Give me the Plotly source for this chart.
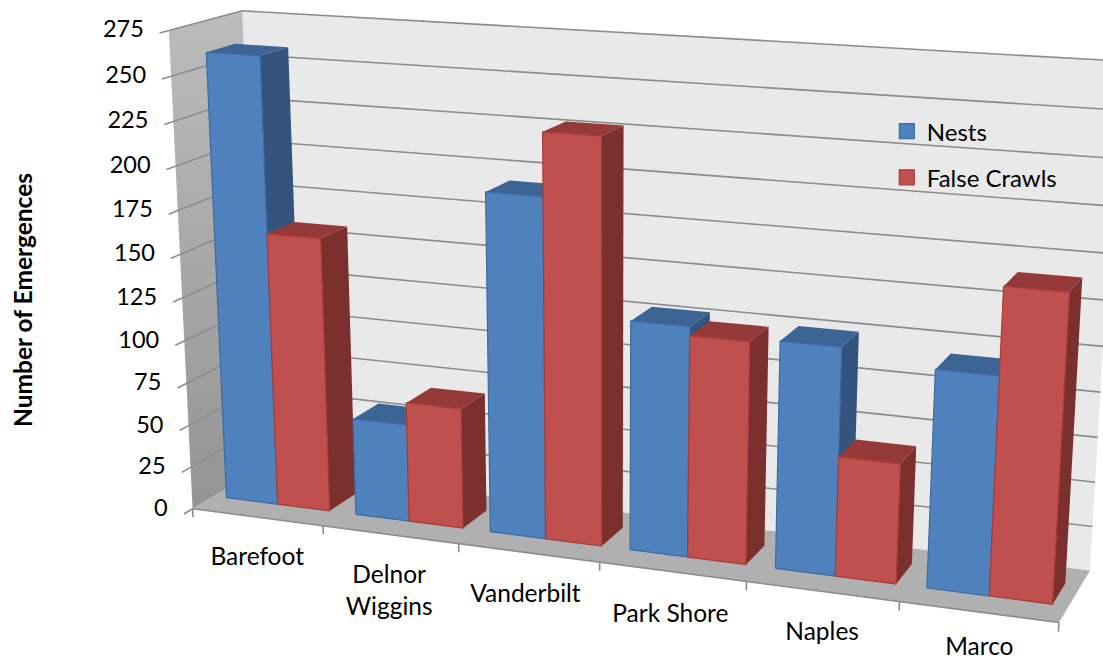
import numpy as np
import plotly.graph_objects as go

categories = ["Barefoot", "Delnor<br>Wiggins", "Vanderbilt", "Park Shore", "Naples", "Marco"]
nests = [260, 57, 194, 130, 127, 120]
false_crawls = [160, 70, 229, 125, 67, 167]
value_ticks = list(range(0, 276, 25))
value_max = 275

# perspective calibration: chart-space points (category, depth, value) -> page pixel
world_corners = [(0, 0, 0), (0, 0, 275), (0, 1, 275), (0, 1, 0), (6, 0, 0), (6, 1, 0), (6, 1, 275),
                 (1, 0, 0), (2, 0, 0), (3, 0, 0), (5, 0, 0),
                 (0.1, 0.3, 260), (2.1, 0.3, 194), (2.9, 0.3, 229), (3.1, 0.3, 130), (5.1, 0.3, 120), (5.9, 0.3, 167),
                 (0.1, 0.3, 0), (2.1, 0.3, 0), (2.9, 0.3, 0), (5.1, 0.3, 0), (5.9, 0.3, 0)]
page_corners = [(195, 509), (168, 29), (245, 9), (258, 469), (1060, 623), (1090, 567), (1122, 65),
                (323, 526), (459, 544), (600, 562), (900, 602),
                (207, 52), (484, 195), (600, 133), (629, 323), (933, 372), (1068, 289),
                (228, 497), (490, 533), (600, 545), (927, 588), (1055, 603)]


def fit_projection():
    rows = []
    for (a, b, c), (x, y) in zip(world_corners, page_corners):
        p = [a / 6, b, c / value_max, 1]
        x, y = x / 1000, y / 1000
        rows.append(p + [0, 0, 0, 0] + [-x * q for q in p])
        rows.append([0, 0, 0, 0] + p + [-y * q for q in p])
    return np.linalg.svd(np.array(rows))[2][-1].reshape(3, 4)


P = fit_projection()


def project(u, v, w):
    h = P @ np.array([u / 6, v, w / value_max, 1])
    return h[0] / h[2] * 1000, h[1] / h[2] * 1000


fig = go.Figure()


def face(points, fill=None, line=None, width=1, gradient=None):
    xy = [project(*p) for p in points]
    xs = [q[0] for q in xy] + [xy[0][0]]
    ys = [q[1] for q in xy] + [xy[0][1]]
    kw = dict(x=xs, y=ys, mode="lines", fill="toself", hoverinfo="skip", showlegend=False,
              line=dict(color=line or "rgba(0,0,0,0)", width=width))
    if gradient:
        kw["fillgradient"] = gradient
    else:
        kw["fillcolor"] = fill
    fig.add_trace(go.Scatter(**kw))


def segment(points, color="#8c8c8c", width=1.6):
    xy = [project(*p) for p in points]
    fig.add_trace(go.Scatter(x=[q[0] for q in xy], y=[q[1] for q in xy], mode="lines",
                             hoverinfo="skip", showlegend=False, line=dict(color=color, width=width)))


n = len(categories)
face([(0, 1, 0), (n, 1, 0), (n, 1, value_max), (0, 1, value_max)], fill="#e9e9e9")
face([(0, 0, 0), (0, 1, 0), (0, 1, value_max), (0, 0, value_max)],
     gradient=dict(type="vertical", colorscale=[[0, "#949494"], [1, "#bcbcbc"]]))
face([(0, 0, 0), (n, 0, 0), (n, 1, 0), (0, 1, 0)], fill="#b0b0b0")

for t in value_ticks:
    if t > 0:
        segment([(0, 0, t), (0, 1, t), (n, 1, t)])
segment([(0, -0.12, 0), (0, 0, 0), (n, 0, 0)])
for t in value_ticks[1:]:
    segment([(0, -0.12, t), (0, 0, t)])
for i in range(n + 1):
    segment([(i, 0, 0), (i, 0, -5)])

gap = 0.1
v1, v2 = 0.3, 0.7
styles = {
    "nests": dict(front="#4f81bd", top="#3c6494", side="#34547d", edge="#3a6ca6"),
    "crawls": dict(front="#c0504d", top="#953a38", side="#7c302e", edge="#a83c39"),
}


def bar(u1, u2, value, s):
    face([(u2, v1, 0), (u2, v2, 0), (u2, v2, value), (u2, v1, value)], fill=s["side"])
    face([(u1, v1, value), (u2, v1, value), (u2, v2, value), (u1, v2, value)], fill=s["top"])
    face([(u1, v1, 0), (u2, v1, 0), (u2, v1, value), (u1, v1, value)], fill=s["front"], line=s["edge"], width=1.2)


for i in range(n):
    mid = i + 0.5
    bar(i + gap, mid, nests[i], styles["nests"])
    bar(mid, i + 1 - gap, false_crawls[i], styles["crawls"])

font = "Lato, Carlito, sans-serif"
tick_xy = [project(0, 0, t) for t in value_ticks]
fig.add_trace(go.Scatter(x=[q[0] - 25 for q in tick_xy], y=[q[1] + 1 for q in tick_xy], mode="text",
                         text=[str(t) for t in value_ticks], textposition="middle left",
                         textfont=dict(family=font, size=23.5, color="#000000"),
                         hoverinfo="skip", showlegend=False))

label_drop = [42, 58, 43, 44, 42, 37]
label_shift = [0, -1, -3, -2, 0, 1]
cat_xy = [project(i + 0.5, 0, 0) for i in range(n)]
fig.add_trace(go.Scatter(x=[q[0] + s for q, s in zip(cat_xy, label_shift)],
                         y=[q[1] + d for q, d in zip(cat_xy, label_drop)], mode="text",
                         text=categories, textposition="middle center", cliponaxis=False,
                         textfont=dict(family=font, size=24.5, color="#000000"),
                         hoverinfo="skip", showlegend=False))

for name, s, group in [("Nests", styles["nests"], "a"), ("False Crawls", styles["crawls"], "b")]:
    fig.add_trace(go.Scatter(x=[None], y=[None], mode="markers", name=name, legendgroup=group,
                             marker=dict(symbol="square", size=15, color=s["front"],
                                         line=dict(color=s["edge"], width=1.2))))

fig.update_layout(
    width=1103, height=661, margin=dict(l=0, r=0, t=0, b=0),
    paper_bgcolor="white", plot_bgcolor="white",
    xaxis=dict(range=[0, 1103], visible=False, fixedrange=True),
    yaxis=dict(range=[661, 0], visible=False, fixedrange=True),
    legend=dict(x=0.804, y=0.835, xanchor="left", yanchor="top", bgcolor="rgba(0,0,0,0)",
                font=dict(family=font, size=24, color="#000000"), tracegroupgap=12,
                itemwidth=30, traceorder="grouped"),
    annotations=[dict(text="<b>Number of Emergences</b>", x=22, y=300, xref="x", yref="y", textangle=-90,
                      showarrow=False, font=dict(family=font, size=24.5, color="#000000"))],
)
fig.write_html("out.html", config={"displayModeBar": False},
               post_script="document.body.style.margin='0';document.body.style.overflow='hidden';")
